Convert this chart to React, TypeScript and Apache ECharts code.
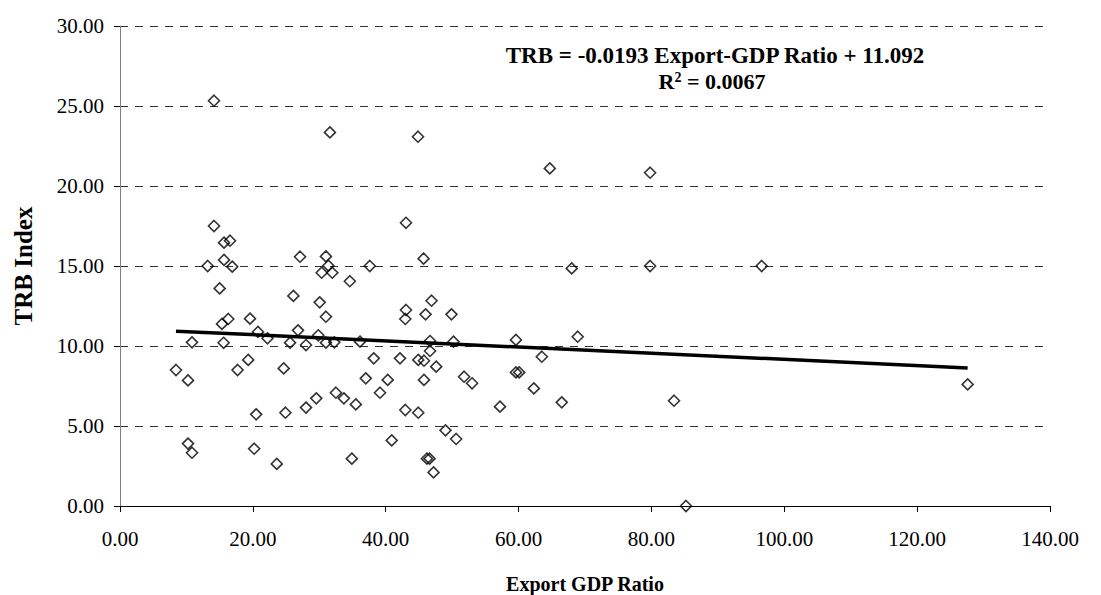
import React, { useEffect, useRef } from "react";
import * as echarts from "echarts";

const exportRatio: number[] = [
  14.15, 14.15, 15.66, 16.56, 15.66, 13.2, 16.9, 15.0, 15.35, 16.3, 19.57, 20.77, 22.2, 10.84, 15.6,
  8.43, 10.24, 17.7, 19.3, 20.5, 10.24, 10.84, 20.2, 23.6,
  31.6, 44.86, 43.05, 27.1, 31.0, 31.36, 30.36, 31.96, 37.6, 45.7, 34.6, 26.1, 30.06, 31.0,
  43.05, 42.95, 46.0, 46.9, 49.9, 26.8, 25.6, 28.0, 29.85, 31.0, 32.26, 36.13, 46.67, 46.67,
  38.2, 42.15, 44.9, 45.76, 47.6, 24.64, 37.0, 40.3, 45.76, 39.14, 32.5, 33.7, 29.55, 35.5,
  28.0, 24.9, 42.95, 44.9, 49.0, 40.9, 34.9, 46.2, 46.6, 47.2,
  64.7, 68.0, 50.2, 59.6, 68.9, 63.5, 51.8, 53.0, 59.6, 60.1, 62.3, 57.2, 66.5, 50.6,
  79.8, 79.8, 96.6, 83.4, 127.6, 85.2,
];
const trbIndex: number[] = [
  25.33, 17.5, 16.46, 16.58, 15.38, 15.0, 14.96, 13.6, 11.38, 11.69, 11.71, 10.88, 10.48, 10.23, 10.2,
  8.5, 7.85, 8.5, 9.13, 5.73, 3.9, 3.33, 3.58, 2.63,
  23.35, 23.08, 17.7, 15.58, 15.6, 15.02, 14.58, 14.58, 15.0, 15.46, 14.05, 13.13, 12.73, 11.83,
  12.25, 11.69, 11.98, 12.83, 11.98, 10.98, 10.21, 10.06, 10.67, 10.21, 10.23, 10.27, 10.31, 9.69,
  9.23, 9.23, 9.13, 9.08, 8.71, 8.6, 7.98, 7.88, 7.88, 7.08, 7.08, 6.73, 6.73, 6.35,
  6.15, 5.83, 6.0, 5.83, 4.73, 4.1, 2.96, 2.96, 2.96, 2.1,
  21.1, 14.85, 10.27, 10.38, 10.58, 9.33, 8.08, 7.67, 8.35, 8.35, 7.35, 6.21, 6.48, 4.19,
  20.83, 15.0, 15.0, 6.58, 7.6, 0.0,
];

// Trendline as stated on the chart
const trendSlope = -0.0193;
const trendIntercept = 11.092;
const equationText = "TRB = -0.0193 Export-GDP Ratio + 11.092";
const rSquaredText = "0.0067";

const xTitle = "Export GDP Ratio";
const yTitle = "TRB Index";

const FONT = "'Liberation Serif', 'Times New Roman', serif";

export default function App() {
  const ref = useRef<HTMLDivElement>(null);
  useEffect(() => {
    if (!ref.current) return;
    const chart = echarts.init(ref.current, null, { renderer: "svg" });
    const points = exportRatio.map((x, i) => [x, trbIndex[i]]);
    const xMin = Math.min(...exportRatio);
    const xMax = Math.max(...exportRatio);
    const trend = [
      [xMin, trendIntercept + trendSlope * xMin],
      [xMax, trendIntercept + trendSlope * xMax],
    ];
    chart.setOption({
      animation: false,
      backgroundColor: "#ffffff",
      grid: {
        left: 120,
        right: 51,
        top: 26,
        bottom: 89,
        containLabel: false,
        outerBoundsMode: "none",
      },
      xAxis: {
        type: "value",
        min: 0,
        max: 140,
        interval: 20,
        name: xTitle,
        nameLocation: "middle",
        nameGap: 68,
        nameTextStyle: { fontFamily: FONT, fontSize: 20, fontWeight: "bold", color: "#000" },
        axisLine: { show: true, lineStyle: { color: "#000", width: 1 } },
        axisTick: { show: true, inside: false, length: 6, lineStyle: { color: "#000" } },
        axisLabel: {
          fontFamily: FONT,
          fontSize: 21,
          color: "#000",
          margin: 22,
          formatter: (v: number) => v.toFixed(2),
        },
        splitLine: { show: false },
      },
      yAxis: {
        type: "value",
        min: 0,
        max: 30,
        interval: 5,
        name: yTitle,
        nameLocation: "middle",
        nameGap: 84,
        nameRotate: 90,
        nameTextStyle: { fontFamily: FONT, fontSize: 25, fontWeight: "bold", color: "#000" },
        axisLine: { show: true, lineStyle: { color: "#808080", width: 1 } },
        axisTick: { show: true, inside: false, length: 6, lineStyle: { color: "#000" } },
        axisLabel: {
          fontFamily: FONT,
          fontSize: 21,
          color: "#000",
          margin: 16,
          formatter: (v: number) => v.toFixed(2),
        },
        splitLine: {
          show: true,
          lineStyle: { color: "#333", width: 1, type: [8, 7] },
        },
      },
      series: [
        {
          type: "scatter",
          data: points,
          symbol: "diamond",
          symbolSize: 11,
          itemStyle: { color: "rgba(0,0,0,0)", borderColor: "#000", borderWidth: 1.6 },
          z: 2,
        },
        {
          type: "line",
          data: trend,
          symbol: "none",
          lineStyle: { color: "#000", width: 3.5 },
          z: 3,
        },
      ],
      graphic: [
        {
          type: "text",
          x: 715,
          y: 55,
          style: {
            text: equationText,
            fontFamily: FONT,
            fontSize: 23,
            fontWeight: "bold",
            fill: "#000",
            align: "center",
            verticalAlign: "middle",
          },
        },
        {
          type: "text",
          x: 712,
          y: 81,
          style: {
            text: "R{sup|2} = " + rSquaredText,
            fontFamily: FONT,
            fontSize: 22,
            fontWeight: "bold",
            fill: "#000",
            align: "center",
            verticalAlign: "middle",
            rich: {
              sup: {
                fontFamily: FONT,
                fontSize: 14,
                fontWeight: "bold",
                fill: "#000",
                verticalAlign: "top",
                padding: [0, 0, 8, 0],
              },
            },
          },
        },
      ],
    });
    return () => chart.dispose();
  }, []);
  return (
    <div
      ref={ref}
      style={{ position: "absolute", left: 0, top: 0, width: 1101, height: 595, background: "#fff" }}
    />
  );
}
